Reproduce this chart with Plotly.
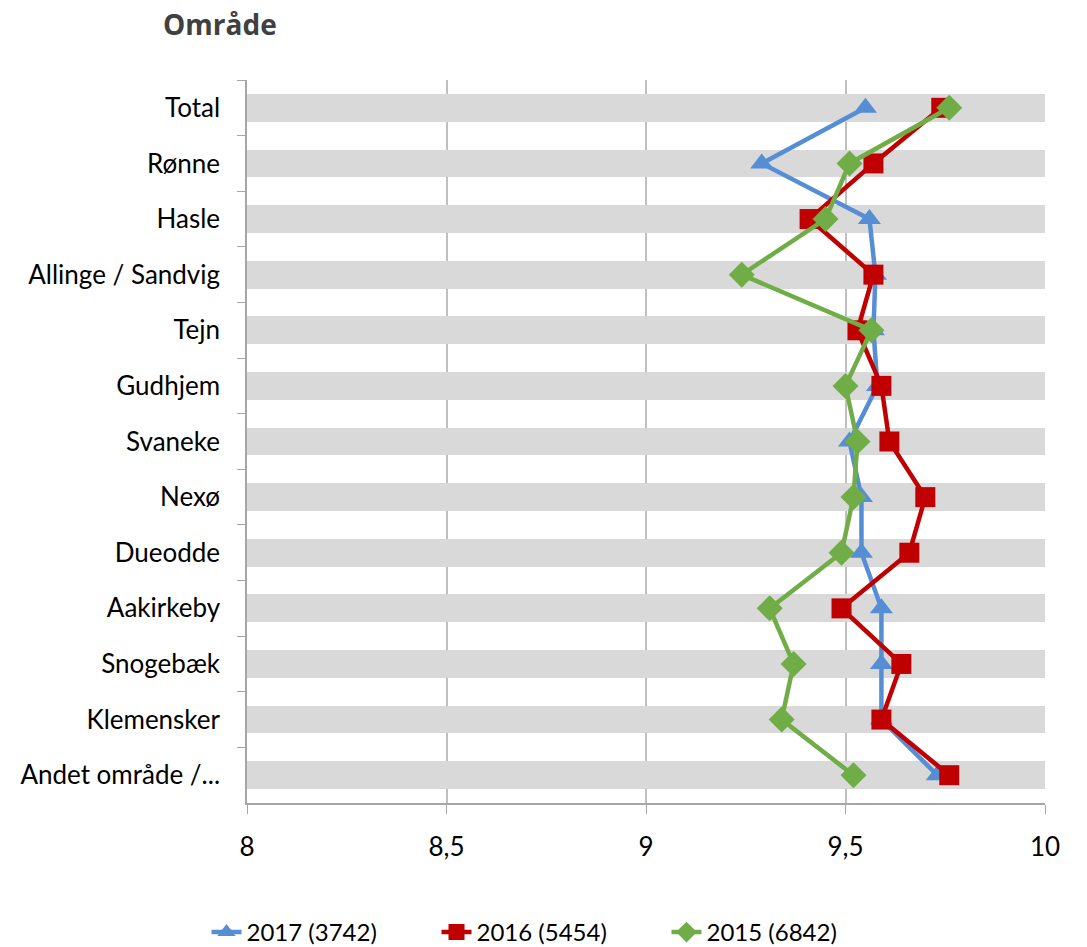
import plotly.graph_objects as go

omraader = ["Total", "Rønne", "Hasle", "Allinge / Sandvig", "Tejn", "Gudhjem", "Svaneke",
            "Nexø", "Dueodde", "Aakirkeby", "Snogebæk", "Klemensker", "Andet område /..."]

v2017 = [9.55, 9.29, 9.56, 9.575, 9.57, 9.58, 9.51, 9.54, 9.54, 9.59, 9.59, 9.59, 9.73]
v2016 = [9.74, 9.57, 9.41, 9.57, 9.53, 9.59, 9.61, 9.70, 9.66, 9.49, 9.64, 9.59, 9.76]
v2015 = [9.76, 9.51, 9.45, 9.24, 9.565, 9.50, 9.53, 9.52, 9.49, 9.31, 9.37, 9.34, 9.52]

serier = [
    ("2017 (3742)", v2017, "#558ed5", "triangle-up"),
    ("2016 (5454)", v2016, "#c00000", "square"),
    ("2015 (6842)", v2015, "#70ad47", "diamond"),
]

x_min, x_max = 8, 10

fig = go.Figure()

# graa baand bag hver kategori
fig.add_trace(go.Bar(y=omraader, x=[x_max - x_min] * len(omraader), base=x_min,
                     orientation="h", width=0.5, marker=dict(color="#d9d9d9", line=dict(width=0)),
                     showlegend=False, hoverinfo="skip"))

for navn, vals, farve, symbol in serier:
    fig.add_trace(go.Scatter(x=vals, y=omraader, mode="lines+markers", name=navn,
                             line=dict(color=farve, width=4.5),
                             marker=dict(symbol=symbol, size=20, color=farve)))

# siden har 8px body-margen, derfor er marginerne forskudt
fig.update_layout(
    width=1087, height=947,
    plot_bgcolor="white", paper_bgcolor="white",
    margin=dict(l=239, r=50, t=72, b=152),
    separators=",.",
    font=dict(family="Lato, Open Sans, sans-serif", color="black"),
    title=dict(text="<b>Område</b>", x=155 / 1087, xref="container", xanchor="left",
               y=0.982, yanchor="middle",
               font=dict(size=28, color="#404040", family="Open Sans, sans-serif")),
    legend=dict(orientation="h", x=0.5, xref="container", xanchor="center",
                y=0.0, yref="container", yanchor="bottom",
                font=dict(size=24), entrywidth=185, entrywidthmode="pixels",
                traceorder="normal"),
    bargap=0,
)

fig.update_xaxes(range=[x_min, x_max], dtick=0.5, tick0=8, showgrid=True,
                 gridcolor="#bfbfbf", gridwidth=1.5, zeroline=False,
                 showline=True, linecolor="#a6a6a6", linewidth=1.5,
                 ticks="outside", ticklen=9, tickcolor="#a6a6a6",
                 tickfont=dict(size=26), ticklabelstandoff=11, automargin=False)
fig.update_yaxes(range=[len(omraader) - 0.5, -0.5], type="category", showgrid=False,
                 showline=True, linecolor="#a6a6a6", linewidth=1.5,
                 ticks="outside", ticklen=8, tickcolor="#a6a6a6", tickson="boundaries",
                 tickfont=dict(size=26), ticklabelstandoff=20, automargin=False)

fig.write_html("out.html")
